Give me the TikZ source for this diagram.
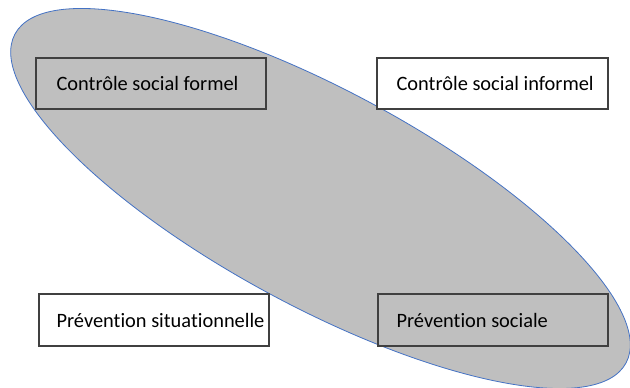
\documentclass[tikz,border=0pt]{standalone}
\usepackage{fontspec}
\setmainfont{Carlito}[Ligatures={NoCommon}]
\definecolor{ellfill}{HTML}{BFBFBF}
\definecolor{elledge}{HTML}{4472C4}
\definecolor{boxedge}{HTML}{404040}
\begin{document}
\begin{tikzpicture}[x=1pt,y=1pt,
  box/.style={draw=boxedge,line width=1.3pt,minimum height=51pt,inner sep=0pt},
  lbl/.style={anchor=west,inner sep=0pt,font=\fontsize{20.4}{24}\selectfont,text=black}]
\useasboundingbox (0,0) rectangle (630,388);
\fill[white] (0,0) rectangle (630,388);
\draw[fill=ellfill,draw=elledge,line width=0.8pt,rotate around={-28.3:(320.5,189.5)}]
  (320.5,189.5) ellipse [x radius=347, y radius=108];
\node[box,minimum width=230pt] (b1) at (151,304.5) {};
\node[box,fill=white,minimum width=231pt] (b2) at (492.5,304.5) {};
\node[box,fill=white,minimum width=230pt,minimum height=52pt] (b3) at (154,68) {};
\node[box,minimum width=230pt,minimum height=52pt] (b4) at (493,68) {};
\node[lbl] (t1) at ([xshift=21pt]b1.west) {Contrôle social formel};
\node[lbl] (t2) at ([xshift=20pt]b2.west) {Contrôle social informel};
\node[lbl] (t3) at ([xshift=18pt]b3.west) {Prévention situationnelle};
\node[lbl] (t4) at ([xshift=19pt]b4.west) {Prévention sociale};
\end{tikzpicture}
\end{document}
